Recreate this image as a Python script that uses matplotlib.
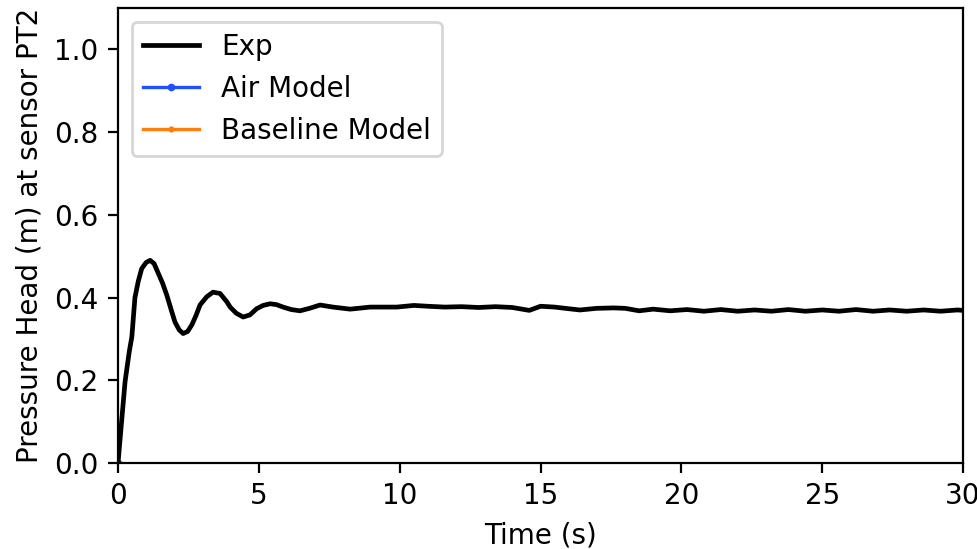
import matplotlib
matplotlib.use("Agg")
import matplotlib.pyplot as plt

exp_time = [0.0, 0.1, 0.25, 0.4, 0.49, 0.6, 0.72, 0.84, 1.0, 1.14, 1.28, 1.42, 1.58, 1.73, 1.88,
            2.02, 2.17, 2.31, 2.47, 2.62, 2.77, 2.91, 3.15, 3.37, 3.62, 3.86, 3.98, 4.2, 4.44,
            4.68, 4.92, 5.15, 5.40, 5.62, 5.86, 6.15, 6.46, 6.8, 7.17, 7.63, 8.24, 8.95, 9.3,
            9.9, 10.5, 11.0, 11.6, 12.2, 12.8, 13.4, 14.0, 14.6, 15.0, 15.5, 16.0, 16.4,
            17.0, 17.6, 18.0, 18.5, 19.0, 19.6, 20.2, 20.8, 21.4, 22.0, 22.6, 23.2, 23.8,
            24.4, 25.0, 25.6, 26.2, 26.8, 27.4, 28.0, 28.6, 29.2, 29.8, 30.0]
exp_head = [0.0, 0.08, 0.197, 0.27, 0.305, 0.40, 0.44, 0.47, 0.485, 0.49, 0.482, 0.46, 0.435, 0.406, 0.372,
            0.341, 0.322, 0.313, 0.318, 0.334, 0.357, 0.382, 0.402, 0.413, 0.41, 0.39, 0.377, 0.362, 0.353,
            0.358, 0.373, 0.381, 0.385, 0.383, 0.377, 0.371, 0.368, 0.374, 0.382, 0.377, 0.372, 0.377, 0.377,
            0.377, 0.381, 0.379, 0.377, 0.378, 0.376, 0.378, 0.376, 0.369, 0.379, 0.377, 0.373, 0.370,
            0.374, 0.375, 0.374, 0.368, 0.372, 0.368, 0.371, 0.367, 0.371, 0.367, 0.370, 0.367, 0.371,
            0.367, 0.370, 0.367, 0.371, 0.367, 0.370, 0.367, 0.370, 0.367, 0.370, 0.369]

# Model series (not visible in the reference, hidden beneath the experimental curve)
air_time = [0.0]
air_head = [0.0]
base_time = [0.0]
base_head = [0.0]

plt.rcParams['font.family'] = ['DejaVu Sans']

fig = plt.figure(figsize=(4.89, 2.745), dpi=200)
ax = fig.add_axes([0.1207, 0.1566, 0.8640, 0.8288])

ax.plot(base_time, base_head, color='#ff7f0e', marker='.', markersize=2.5, lw=1.2, label='Baseline Model')
ax.plot(air_time, air_head, color='#1f4fff', marker='.', markersize=3.5, lw=1.2, label='Air Model')
ax.plot(exp_time, exp_head, color='black', lw=1.7, label='Exp', zorder=5)

handles, labels = ax.get_legend_handles_labels()
order = [2, 1, 0]
ax.legend([handles[i] for i in order], [labels[i] for i in order], loc='upper left')

ax.set_xlim(0, 30)
ax.set_ylim(0, 1.1)
ax.set_yticks([0.0, 0.2, 0.4, 0.6, 0.8, 1.0])
ax.set_xticks([0, 5, 10, 15, 20, 25, 30])
ax.set_xlabel('Time (s)')
ax.set_ylabel('Pressure Head (m) at sensor PT2')

fig.savefig('out.png', dpi=200)
